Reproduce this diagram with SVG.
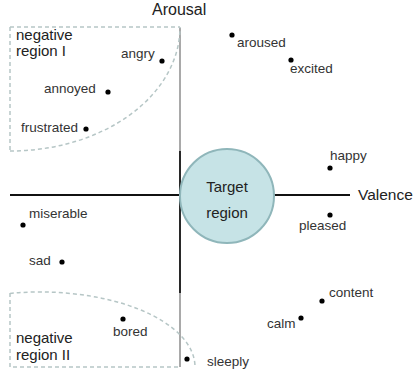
<svg xmlns="http://www.w3.org/2000/svg" width="414" height="373" viewBox="0 0 414 373">
<style>
text{font-family:"Liberation Sans",Arial,sans-serif;fill:#222}
.lbl{font-size:13.5px;fill:#333}
.big{font-size:15px}
.ax{stroke:#111;stroke-width:1.8;fill:none}
.dash{stroke:#b6c6c6;stroke-width:1.5;stroke-dasharray:4 3;fill:none}
.veil{fill:#fff;fill-opacity:0.6;stroke:none}
.dot{fill:#000}
</style>
<rect width="414" height="373" fill="#fff"/>
<g id="connectors">
<line class="ax" x1="180" y1="28" x2="180" y2="367"/>
<line class="ax" x1="10" y1="195" x2="350" y2="195"/>
</g>
<g id="negative-region-1">
<rect class="veil" x="10" y="27" width="171" height="124"/>
<path class="dash" d="M10 27 H180 M10 27 V151 M10 151 A170 124 0 0 0 180 27"/>
<text class="big" x="16" y="40">negative</text>
<text class="big" x="16" y="56">region I</text>
</g>
<g id="negative-region-2">
<rect class="veil" x="10" y="293" width="171" height="74"/>
<path class="dash" d="M10 293 V367 H180 M10 293.4 A155 75 0 0 1 195 367"/>
<text class="big" x="16" y="343">negative</text>
<text class="big" x="16" y="360">region II</text>
</g>
<g id="target-region">
<circle cx="227" cy="196" r="47" fill="#c6e3e6" stroke="#8fb6ba" stroke-width="2"/>
<text class="big" x="227" y="192" text-anchor="middle">Target</text>
<text class="big" x="227" y="218" text-anchor="middle">region</text>
</g>
<g id="axis-labels">
<text x="152" y="15" font-size="16">Arousal</text>
<text x="358" y="200" font-size="15.5">Valence</text>
</g>
<g id="angry"><circle class="dot" cx="162" cy="61" r="2.6"/><text class="lbl" x="121" y="58">angry</text></g>
<g id="annoyed"><circle class="dot" cx="108" cy="92" r="2.6"/><text class="lbl" x="44" y="93">annoyed</text></g>
<g id="frustrated"><circle class="dot" cx="86" cy="129" r="2.6"/><text class="lbl" x="21" y="132">frustrated</text></g>
<g id="aroused"><circle class="dot" cx="232" cy="35" r="2.6"/><text class="lbl" x="237" y="47">aroused</text></g>
<g id="excited"><circle class="dot" cx="291" cy="60" r="2.6"/><text class="lbl" x="290" y="73">excited</text></g>
<g id="happy"><circle class="dot" cx="330" cy="168" r="2.6"/><text class="lbl" x="330" y="160">happy</text></g>
<g id="pleased"><circle class="dot" cx="330" cy="215" r="2.6"/><text class="lbl" x="299" y="230">pleased</text></g>
<g id="miserable"><circle class="dot" cx="23" cy="225" r="2.6"/><text class="lbl" x="29" y="218">miserable</text></g>
<g id="sad"><circle class="dot" cx="62" cy="262" r="2.6"/><text class="lbl" x="29" y="265">sad</text></g>
<g id="bored"><circle class="dot" cx="123" cy="319" r="2.6"/><text class="lbl" x="113" y="336">bored</text></g>
<g id="content"><circle class="dot" cx="322" cy="301" r="2.6"/><text class="lbl" x="329" y="297">content</text></g>
<g id="calm"><circle class="dot" cx="301" cy="318" r="2.6"/><text class="lbl" x="267" y="328">calm</text></g>
<g id="sleeply"><circle class="dot" cx="187" cy="359" r="2.6"/><text class="lbl" x="207" y="366">sleeply</text></g>
</svg>
